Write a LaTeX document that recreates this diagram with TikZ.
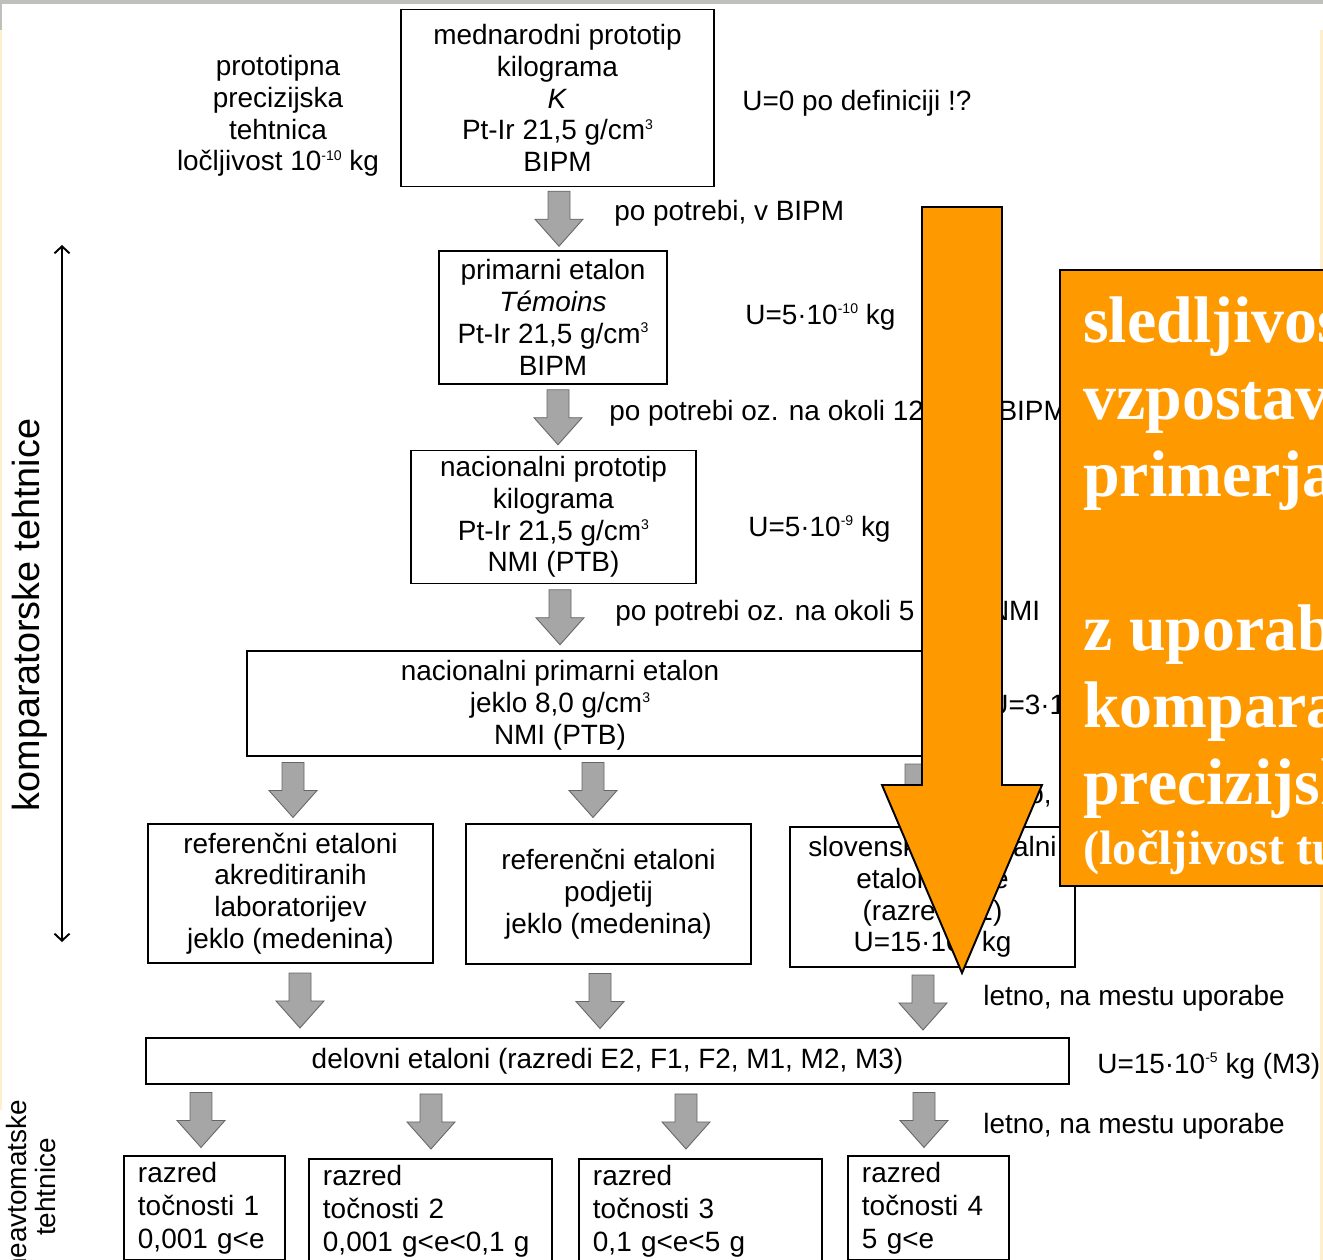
\documentclass[tikz,border=0pt]{standalone}
\usepackage{fontspec}
\setmainfont{Liberation Sans}
\newfontfamily\slideserif{Liberation Serif}
\usepackage{tikz}
\usetikzlibrary{calc,arrows.meta}
\definecolor{slideorange}{RGB}{255,153,0}
\definecolor{arrowgray}{RGB}{166,166,166}
\definecolor{bandgray}{RGB}{190,192,188}
\definecolor{edgecream}{RGB}{255,240,205}
\newcommand{\sups}[1]{\raisebox{6pt}{\fontsize{8}{8}\selectfont #1}}
% gray block arrow between two nodes, at a given x
\newcommand{\garrow}[3]{%
  \path[grayarrow] let \p1=($(#1)!0.5!(#2)$), \p2=(#3,0) in
    (\x2-0.22cm,\y1+0.55cm) -- (\x2+0.22cm,\y1+0.55cm) -- (\x2+0.22cm,\y1-0.01cm)
    -- (\x2+0.48cm,\y1-0.01cm) -- (\x2,\y1-0.55cm) -- (\x2-0.48cm,\y1-0.01cm)
    -- (\x2-0.22cm,\y1-0.01cm) -- cycle;}

\begin{document}
\begin{tikzpicture}[x=0.02cm,y=-0.02cm,
    txt/.style={font=\fontsize{15.9}{17.9}\selectfont, inner sep=0pt},
    box/.style={draw, line width=1.1pt, align=center, inner sep=0pt,
      font=\fontsize{15.9}{18.1}\selectfont},
    classbox/.style={draw, line width=1.1pt, anchor=north west, align=left,
      inner xsep=0.28cm, inner ysep=0.12cm, font=\fontsize{15.9}{18.8}\selectfont},
    grayarrow/.style={fill=arrowgray, draw=black!60, line width=0.5pt},
    bigtxt/.style={anchor=base west, inner sep=0pt, text=white,
      font=\slideserif\bfseries\fontsize{37.5}{40}\selectfont}]
  \useasboundingbox (0,0) rectangle (1323,1260);
  \clip (0,0) rectangle (1323,1260);
  \fill[white] (0,0) rectangle (1323,1260);

  % slide edges
  \fill[bandgray] (0,0) rectangle (1323,4);
  \fill[bandgray] (0,0) rectangle (2,30);
  \fill[edgecream] (0,30) rectangle (2,1110);
  \fill[edgecream] (1320,30) rectangle (1323,1260);

  % chain of standards
  \node[box, minimum width=6.26cm, minimum height=3.54cm] (k) at (557.5,98)
    {mednarodni prototip\\kilograma\\\textit{K}\\Pt-Ir 21,5 g/cm\sups{3}\\BIPM};
  \node[box, minimum width=4.56cm, minimum height=2.66cm] (prim) at (553,317.5)
    {primarni etalon\\\textit{Témoins}\\Pt-Ir 21,5 g/cm\sups{3}\\BIPM};
  \node[box, minimum width=5.7cm, minimum height=2.66cm] (proto) at (553.5,517)
    {nacionalni prototip\\kilograma\\Pt-Ir 21,5 g/cm\sups{3}\\NMI (PTB)};
  \node[box, minimum width=14.26cm, minimum height=2.1cm] (nprim) at (603.5,703.5) {};
  \node[txt, align=center, font=\fontsize{15.9}{18.1}\selectfont] (nprimt) at (560,705.5)
    {nacionalni primarni etalon\\jeklo 8,0 g/cm\sups{3}\\NMI (PTB)};
  \node[box, minimum width=5.7cm, minimum height=2.78cm] (akr) at (290.5,893.5)
    {referenčni etaloni\\akreditiranih\\laboratorijev\\jeklo (medenina)};
  \node[box, minimum width=5.7cm, minimum height=2.8cm] (pod) at (608.5,894)
    {referenčni etaloni\\podjetij\\jeklo (medenina)};
  \node[box, minimum width=5.7cm, minimum height=2.8cm] (slo) at (932.5,897)
    {slovenski nacionalni\\etalon mase\\(razred E1)\\U=15·10\sups{-8} kg};
  \node[box, minimum width=18.46cm, minimum height=0.92cm] (del) at (607.5,1061)
    {delovni etaloni (razredi E2, F1, F2, M1, M2, M3)};

  % accuracy classes
  \node[classbox, text width=2.66cm] (ra) at (123,1155) {razred\\točnosti 1\\0,001 g<e};
  \node[classbox, text width=4.30cm] (rb) at (308,1158) {razred\\točnosti 2\\0,001 g<e<0,1 g};
  \node[classbox, text width=4.30cm] (rc) at (578,1158) {razred\\točnosti 3\\0,1 g<e<5 g};
  \node[classbox, text width=2.66cm] (rd) at (847,1155) {razred\\točnosti 4\\5 g<e};

  % side notes
  \node[txt, align=center, font=\fontsize{15.9}{18.1}\selectfont] (ptt) at (278,116)
    {prototipna\\precizijska\\tehtnica\\ločljivost 10\sups{-10} kg};
  \node[txt, anchor=west] (u0) at (742,103) {U=0 po definiciji !?};
  \node[txt, anchor=west] (n1) at (614,213) {po potrebi, v BIPM};
  \node[txt, anchor=west] (u1) at (745,317) {U=5·10\sups{-10} kg};
  \node[txt, anchor=west] (n2) at (609,413) {po potrebi oz. na okoli 12 let, v BIPM};
  \node[txt, anchor=west] (u2) at (748,529) {U=5·10\sups{-9} kg};
  \node[txt, anchor=west] (n3) at (615,613) {po potrebi oz. na okoli 5 let, v NMI};
  \node[txt, anchor=west] (u3) at (988,707) {U=3·10\sups{-8} kg};
  \node[txt, anchor=west] (n4) at (983,796) {letno, na mestu uporabe};
  \node[txt, anchor=west] (n5) at (983,998) {letno, na mestu uporabe};
  \node[txt, anchor=west] (u4) at (1097,1066) {U=15·10\sups{-5} kg (M3)};
  \node[txt, anchor=west] (n6) at (983,1126) {letno, na mestu uporabe};

  % balances
  \node[txt, rotate=90, font=\fontsize{21.5}{24}\selectfont] (komp) at (30,615) {komparatorske tehtnice};
  \coordinate (ktop) at (62,245);
  \coordinate (kbot) at (62,942);
  \draw[line width=1.1pt, {Straight Barb[length=0.14cm,width=0.3cm]}-{Straight Barb[length=0.14cm,width=0.3cm]}]
    (ktop) -- (kbot);
  \node[txt, rotate=90, align=center, font=\fontsize{15.9}{17}\selectfont] (neavt) at (31,1187)
    {neavtomatske\\tehtnice};

  % gray arrows
  \garrow{k.south}{prim.north}{559}
  \garrow{prim.south}{proto.north}{558}
  \garrow{proto.south}{nprim.north}{560}
  \garrow{nprim.south}{akr.north}{293}
  \garrow{nprim.south}{pod.north}{593}
  \garrow{nprim.south}{slo.north}{916}
  \garrow{akr.south}{del.north}{300}
  \garrow{pod.south}{del.north}{600}
  \garrow{slo.south}{del.north}{923}
  \garrow{del.south}{ra.north}{201}
  \garrow{del.south}{rb.north}{431}
  \garrow{del.south}{rc.north}{686}
  \garrow{del.south}{rd.north}{924}

  % big orange arrow
  \draw[fill=slideorange, line width=1.1pt, line join=miter]
    (922,207) -- (1002,207) -- (1002,785) -- (1042,785) -- (962,973)
    -- (882,785) -- (922,785) -- cycle;

  % orange note
  \draw[fill=slideorange, line width=1.3pt] (1060,270) rectangle (1340,886);
  \node[bigtxt] (t1) at (1083,343) {sledljivost};
  \node[bigtxt] (t2) at (1083,420) {vzpostavljena};
  \node[bigtxt] (t3) at (1083,497) {primerjava};
  \node[bigtxt] (t4) at (1083,650) {z uporabo};
  \node[bigtxt] (t5) at (1083,727) {komparatorskih};
  \node[bigtxt] (t6) at (1083,804) {precizijskih};
  \node[bigtxt, font=\slideserif\bfseries\fontsize{27.5}{30}\selectfont] (t7) at (1083,864)
    {(ločljivost tudi};
\end{tikzpicture}
\end{document}
